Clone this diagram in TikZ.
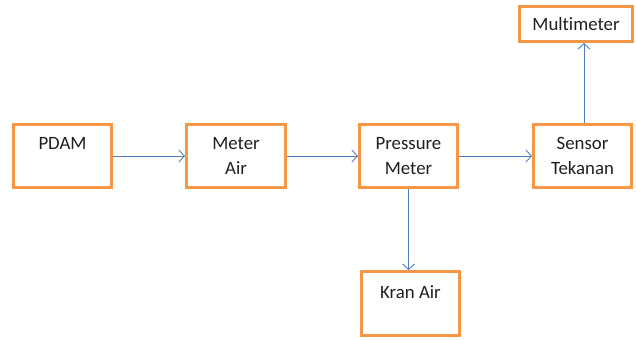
\documentclass[tikz,border=0pt]{standalone}
\usepackage{fontspec}
\setmainfont[Ligatures=NoCommon]{Carlito}
\usetikzlibrary{arrows.meta}
\definecolor{boxorange}{HTML}{F79646}
\definecolor{linkblue}{HTML}{4F81BD}
\definecolor{inktext}{HTML}{1F1F1F}
\begin{document}
\begin{tikzpicture}[x=1bp,y=-1bp,
  blockbox/.style={draw=boxorange, line width=3bp, fill=white, inner sep=0pt,
    minimum width=98bp, minimum height=63bp, align=center, text=inktext,
    font=\fontsize{18.8bp}{25.5bp}\selectfont},
  link/.style={draw=linkblue, line width=0.9bp, -{Straight Barb[length=5.5bp,width=12bp]}}]
  \useasboundingbox (0,0) rectangle (636,339);
  % main chain
  \node[blockbox] (pdam) at (62.5,156) {PDAM\\\mbox{}};
  \node[blockbox, minimum width=99bp] (meter) at (236,156) {Meter\\Air};
  \node[blockbox] (press) at (408.5,156) {Pressure\\Meter};
  \node[blockbox] (sensor) at (582.5,156) {Sensor\\Tekanan};
  % outputs
  \node[blockbox, minimum width=113bp, minimum height=35bp] (multi) at (576,24) {Multimeter};
  \node[blockbox, minimum height=64bp] (kran) at (410.5,303.5) {Kran Air\\[-3bp]\mbox{}};
  % connectors
  \draw[link] (pdam.east) -- (meter.west);
  \draw[link] (meter.east) -- (press.west);
  \draw[link] (press.east) -- (sensor.west);
  \draw[link] ([xshift=1.5bp]sensor.north) -- ([xshift=1.5bp]sensor.north |- multi.south);
  \draw[link] (press.south) -- (press.south |- kran.north);
\end{tikzpicture}
\end{document}
